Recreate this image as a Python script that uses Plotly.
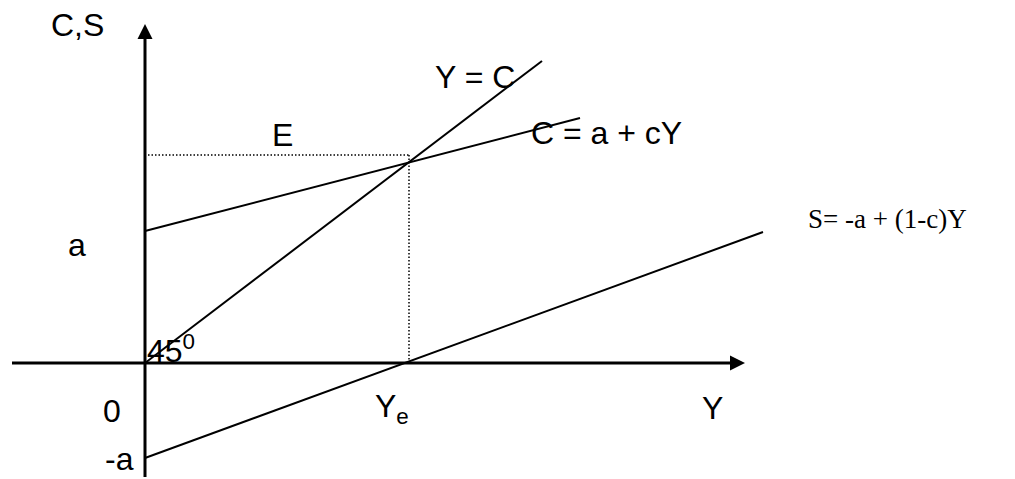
import plotly.graph_objects as go

# ---- data (diagram units, origin at the axes crossing) ----
line_45_x = [0, 397]
line_45_y = [0, 302]
cons_x = [0, 435]
cons_y = [132, 245]
sav_x = [0, 618]
sav_y = [-95, 131]
guide_h_x = [3, 264]
guide_h_y = [208, 208]
guide_v_x = [264, 264]
guide_v_y = [208, 0]
vaxis_x = [0, 0]
vaxis_y = [-114, 330]
haxis_x = [-133, 592]
haxis_y = [0, 0]
arrow_x = [0, 600]
arrow_y = [339, 0]
arrow_sym = ["arrow-up", "arrow-right"]

SANS = "Liberation Sans, Arial, sans-serif"
SERIF = "Liberation Serif, Times New Roman, serif"

fig = go.Figure()

def seg(x, y, width=2, dash=None):
    fig.add_trace(go.Scatter(x=x, y=y, mode="lines",
                             line=dict(color="black", width=width, dash=dash),
                             hoverinfo="skip", showlegend=False))

seg(vaxis_x, vaxis_y, 3)
seg(haxis_x, haxis_y, 3)
seg(line_45_x, line_45_y, 2)
seg(cons_x, cons_y, 2)
seg(sav_x, sav_y, 2)
seg(guide_h_x, guide_h_y, 1.5, "1.5px,2px")
seg(guide_v_x, guide_v_y, 1.5, "1.5px,2px")

fig.add_trace(go.Scatter(x=arrow_x, y=arrow_y, mode="markers",
                         marker=dict(symbol=arrow_sym, size=15, color="black",
                                     line=dict(width=0)),
                         hoverinfo="skip", showlegend=False))

FS = 32
labels = [
    ("C,S", -68, 338),
    ("E", 137, 228),
    ("Y = C", 330, 286),
    ("C = a + cY", 461, 230),
    ("a", -68, 118),
    ("0", -33, -48),
    ("Y", 567, -45),
]
for txt, x, y in labels:
    fig.add_annotation(x=x, y=y, text=txt, showarrow=False, xanchor="center",
                       yanchor="middle", font=dict(family=SANS, size=FS, color="black"))

fig.add_annotation(x=-26, y=-116, text="-a", showarrow=False, xanchor="center",
                   yanchor="bottom", font=dict(family=SANS, size=FS, color="black"))
fig.add_annotation(x=0, y=14, text="45<sup>0</sup>", showarrow=False, xanchor="left",
                   yanchor="middle", font=dict(family=SANS, size=FS, color="black"))
fig.add_annotation(x=228, y=-45, text="Y<sub>e</sub>", showarrow=False, xanchor="left",
                   yanchor="middle", font=dict(family=SANS, size=FS, color="black"))
fig.add_annotation(x=661, y=144, text="S= -a + (1-c)Y", showarrow=False, xanchor="left",
                   yanchor="middle", font=dict(family=SERIF, size=27, color="black"))

# page body has an 8px margin: size the figure to fit the window exactly
fig.update_xaxes(range=[-137, 870], visible=False, fixedrange=True)
fig.update_yaxes(range=[-116, 355], visible=False, fixedrange=True)
fig.update_layout(width=1007, height=471, margin=dict(l=0, r=0, t=0, b=0),
                  paper_bgcolor="white", plot_bgcolor="white", showlegend=False)

fig.write_html("out.html")
